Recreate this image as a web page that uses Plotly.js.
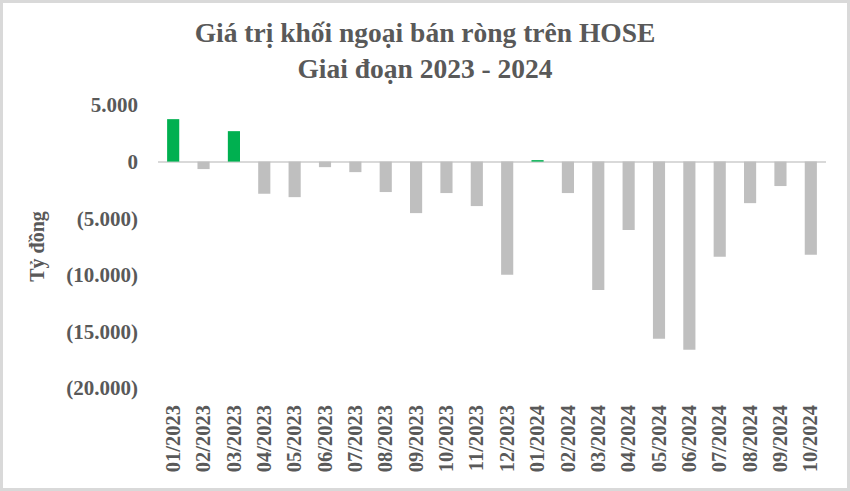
<!DOCTYPE html>
<html>
<head>
<meta charset="utf-8">
<script src="https://cdn.plot.ly/plotly-3.0.1.min.js"></script>
<style>
  html, body { margin: 0; padding: 0; background: #fff; }
  #wrap { position: relative; width: 850px; height: 491px; }
  #chart { width: 850px; height: 491px; }
  #frame { position: absolute; left: 0; top: 0; width: 850px; height: 491px; box-sizing: border-box; border: 3px solid #d9d9d9; pointer-events: none; }
</style>
</head>
<body>
<div id="wrap"><div id="chart"></div><div id="frame"></div></div>
<script>
const months = ["01/2023","02/2023","03/2023","04/2023","05/2023","06/2023","07/2023","08/2023","09/2023","10/2023","11/2023","12/2023",
                "01/2024","02/2024","03/2024","04/2024","05/2024","06/2024","07/2024","08/2024","09/2024","10/2024"];
const netValues = [3750, -660, 2690, -2840, -3140, -490, -930, -2690, -4550, -2780, -3930, -10000,
                   130, -2780, -11350, -6050, -15650, -16620, -8410, -3670, -2160, -8230];
const yTickVals = [5000, 0, -5000, -10000, -15000, -20000];
const yTickText = ["5.000", "0", "(5.000)", "(10.000)", "(15.000)", "(20.000)"];

const GREEN = "#00b050", GRAY = "#bfbfbf", TXT = "#595959";
const FONT = "Liberation Serif, Times New Roman, serif";

const trace = {
  type: "bar",
  x: months,
  y: netValues,
  marker: { color: netValues.map(v => v > 0 ? GREEN : GRAY) },
  hoverinfo: "x+y"
};

const layout = {
  width: 850, height: 491,
  paper_bgcolor: "#fff", plot_bgcolor: "#fff",
  margin: { l: 158, r: 24, t: 105, b: 103 },
  showlegend: false,
  bargap: 0.6,
  title: {
    text: "<b>Giá trị khối ngoại bán ròng trên HOSE<br>Giai đoạn 2023 - 2024</b>",
    font: { family: FONT, size: 27.5, color: TXT },
    x: 0.5, xanchor: "center", yref: "container", y: 0.914, yanchor: "middle"
  },
  xaxis: {
    type: "category",
    tickangle: -90,
    tickfont: { family: FONT, size: 20.5, color: TXT, weight: "bold" },
    showgrid: false, zeroline: false, showline: false,
    ticks: "", ticklabelstandoff: 12
  },
  yaxis: {
    range: [-20000, 5000],
    tickvals: yTickVals, ticktext: yTickText,
    tickfont: { family: FONT, size: 21, color: TXT, weight: "bold" },
    showgrid: false, showline: false,
    zeroline: true, zerolinecolor: "#d9d9d9", zerolinewidth: 2,
    ticks: "", ticklabelstandoff: 19,
    title: { text: "<b>Tỷ đồng</b>", font: { family: FONT, size: 20, color: TXT }, standoff: 16 }
  }
};

Plotly.newPlot("chart", [trace], layout, { displayModeBar: false, staticPlot: true });
</script>
</body>
</html>
